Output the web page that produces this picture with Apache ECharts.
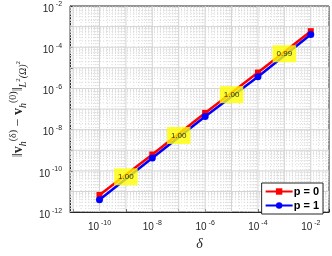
<!DOCTYPE html>
<html><head><meta charset="utf-8">
<script src="https://cdn.jsdelivr.net/npm/echarts@6/dist/echarts.min.js"></script>
<style>html,body{margin:0;padding:0;background:#fff}#c{width:332px;height:256px}</style>
</head><body><div id="c"></div>
<script>
// ---- data ----
const deltas = [1e-10, 1e-8, 1e-6, 1e-4, 1e-2];
const errP0 = [6.8e-12, 6.2e-10, 6.5e-8, 5.9e-6, 6.0e-4];
const errP1 = [4.0e-12, 4.2e-10, 4.4e-8, 3.7e-6, 4.1e-4];
const rates = ['1.00', '1.00', '1.00', '0.99'];
const seriesNames = ['p = 0', 'p = 1'];
const xRange = [7.7e-12, 4.9e-2];
const yRange = [1e-12, 1e-2];

// ---- grid lines (decades + 2..9 minors), as broken line paths ----
function gridValues(range, major) {
  const out = [];
  const e0 = Math.floor(Math.log10(range[0])), e1 = Math.ceil(Math.log10(range[1]));
  for (let e = e0; e <= e1; e++) {
    for (let k = 1; k <= 9; k++) {
      if ((k === 1) !== major) continue;
      const v = k * Math.pow(10, e);
      if (v <= range[0] * 1.0001 || v >= range[1] * 0.9999) continue;
      out.push(v);
    }
  }
  return out;
}
function vPath(vals) { const d = []; vals.forEach(v => { d.push([v, yRange[0]], [v, yRange[1]], '-'); }); return d; }
function hPath(vals) { const d = []; vals.forEach(v => { d.push([xRange[0], v], [xRange[1], v], '-'); }); return d; }
const gridSeries = (data, major) => ({
  type: 'line', data: data, silent: true, z: 1, symbol: 'none', connectNulls: false,
  lineStyle: major ? {color: '#d4d4d4', width: 1, type: 'solid'} : {color: '#d8d8d8', width: 1, type: [1, 2]},
  emphasis: {disabled: true}, tooltip: {show: false}
});

const pairs = (xs, ys) => xs.map((x, i) => [x, ys[i]]);
const rateData = rates.map((r, i) => [
  Math.sqrt(deltas[i] * deltas[i + 1]),
  Math.pow(errP0[i] * errP0[i + 1] * errP1[i] * errP1[i + 1], 0.25)
]);

const expFmt = v => {
  const l = Math.log10(v), e = Math.round(l);
  if (Math.abs(l - e) > 0.01 || e % 2 !== 0) return '';
  return '{b|10}{s| ' + e + '}';
};
const tickRich = {
  b: {fontSize: 10, fontFamily: 'Liberation Sans', color: '#262626', lineHeight: 16},
  s: {fontSize: 7, fontFamily: 'Liberation Sans', color: '#262626', verticalAlign: 'top'}
};
const axisCommon = {
  type: 'log', logBase: 10,
  axisLine: {show: true, lineStyle: {color: '#262626', width: 1}},
  axisTick: {show: true, inside: true, length: 3, interval: 0, lineStyle: {color: '#262626'}},
  splitLine: {show: false},
  minorTick: {show: false}
};

const chart = echarts.init(document.getElementById('c'), null, {renderer: 'canvas'});
chart.setOption({
  animation: false,
  backgroundColor: '#fff',
  grid: {left: 58, right: 2, top: 6, bottom: 34, show: true, borderColor: '#262626', borderWidth: 1},
  xAxis: [Object.assign({}, axisCommon, {
    min: xRange[0], max: xRange[1],
    name: 'δ', nameLocation: 'middle', nameGap: 18,
    nameTextStyle: {fontFamily: 'Liberation Serif', fontStyle: 'italic', fontSize: 14, color: '#262626', verticalAlign: 'top'},
    axisLabel: {formatter: expFmt, rich: tickRich, margin: 7, interval: 0}
  })],
  yAxis: [Object.assign({}, axisCommon, {
    min: yRange[0], max: yRange[1],
    name: '{n|‖}{v|v}{sb|h}{sp|(δ)}{n| − }{v|v}{sb|h}{sp|(0)}{n|‖}{sb|L}{ss|2}{sb|(Ω)}{ss|2}',
    nameLocation: 'middle', nameGap: 36, nameRotate: 90,
    nameTextStyle: {
      rich: {
        n: {fontFamily: 'Liberation Serif', fontSize: 14, color: '#262626', lineHeight: 20},
        v: {fontFamily: 'Liberation Serif', fontSize: 14, fontWeight: 'bold', color: '#262626', lineHeight: 20},
        sp: {fontFamily: 'Liberation Serif', fontSize: 10, color: '#262626', verticalAlign: 'top'},
        sb: {fontFamily: 'Liberation Serif', fontSize: 10, fontStyle: 'italic', color: '#262626', verticalAlign: 'bottom'},
        ss: {fontFamily: 'Liberation Serif', fontSize: 7, color: '#262626', verticalAlign: 'middle'}
      }
    },
    axisLabel: {formatter: expFmt, rich: tickRich, margin: 8, interval: 0, padding: [6, 0, 0, 0]}
  })],
  legend: {
    data: seriesNames, orient: 'vertical', right: 9, top: 183,
    backgroundColor: '#fff', borderColor: '#262626', borderWidth: 1, borderRadius: 0,
    padding: [3, 4, 3, 3], itemGap: 3, itemWidth: 27, itemHeight: 8,
    textStyle: {fontFamily: 'Liberation Sans', fontSize: 11, fontWeight: 'bold', color: '#000', padding: [0, 0, 0, -4]}
  },
  series: [
    gridSeries(vPath(gridValues(xRange, false)), false),
    gridSeries(hPath(gridValues(yRange, false)), false),
    gridSeries(vPath(gridValues(xRange, true)), true),
    gridSeries(hPath(gridValues(yRange, true)), true),
    {
      name: seriesNames[0], type: 'line', data: pairs(deltas, errP0), z: 3,
      symbol: 'rect', symbolSize: 6,
      lineStyle: {color: '#ff0000', width: 2.5}, itemStyle: {color: '#ff0000'}
    },
    {
      name: seriesNames[1], type: 'line', data: pairs(deltas, errP1), z: 4,
      symbol: 'circle', symbolSize: 7,
      lineStyle: {color: '#0000ff', width: 2.5}, itemStyle: {color: '#0000ff'}
    },
    {
      name: 'rates', type: 'scatter', data: rateData, z: 6, symbolSize: 0.1,
      label: {
        show: true, position: 'inside',
        formatter: p => rates[p.dataIndex],
        backgroundColor: '#ffff00', color: '#000', fontFamily: 'Liberation Sans', fontSize: 8,
        padding: [5, 4, 4, 4]
      }
    }
  ]
});
</script></body></html>
